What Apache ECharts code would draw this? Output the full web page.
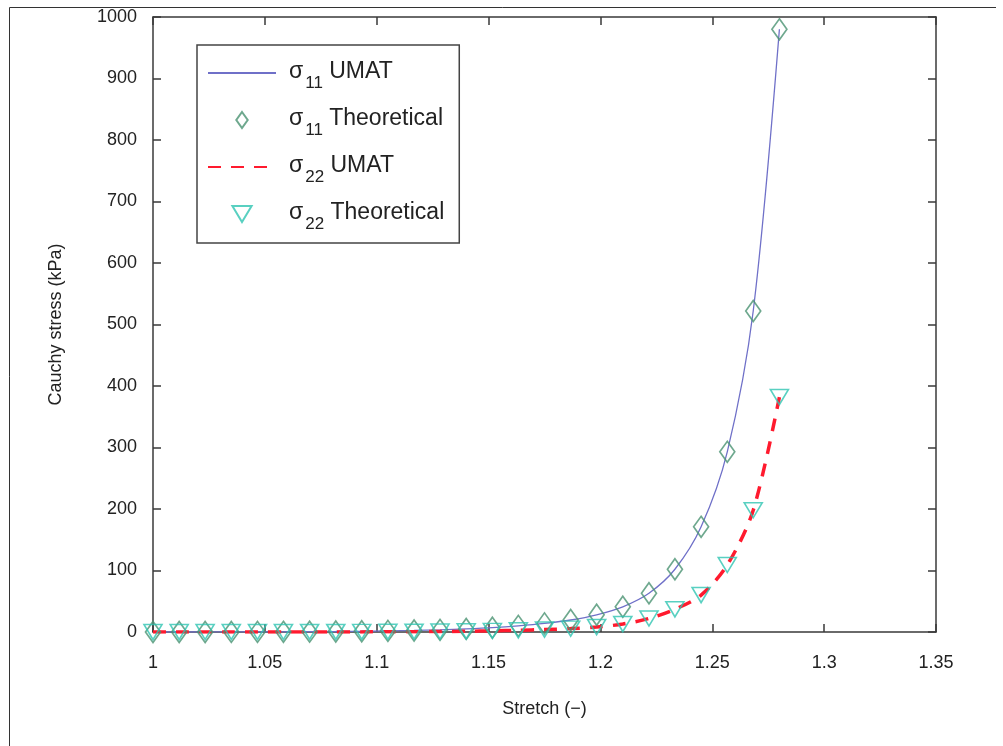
<!DOCTYPE html>
<html>
<head>
<meta charset="utf-8">
<script src="https://cdn.jsdelivr.net/npm/echarts@6/dist/echarts.min.js"></script>
<style>
html,body{margin:0;padding:0;background:#fff;}
#chart{width:1003px;height:746px;}
</style>
</head>
<body>
<div id="chart"></div>
<script>
// Stretch values (25 points from 1 to 1.28)
const stretch = [1.0, 1.0117, 1.0233, 1.035, 1.0467, 1.0583, 1.07, 1.0817, 1.0933, 1.105, 1.1167, 1.1283, 1.14, 1.1517, 1.1633, 1.175, 1.1867, 1.1983, 1.21, 1.2217, 1.2333, 1.245, 1.2567, 1.2683, 1.28];
const sigma11Theory = [0, 0.02, 0.05, 0.1, 0.2, 0.3, 0.5, 0.8, 1.2, 1.8, 2.5, 3.5, 5, 7, 10, 14, 19.5, 28, 41, 63, 102, 171, 293, 522, 980];
const sigma11Umat   = [0, 0.02, 0.05, 0.1, 0.2, 0.3, 0.5, 0.8, 1.2, 1.8, 2.5, 3.5, 5, 7, 10, 14, 19.5, 28, 41, 63, 102, 171, 293, 522, 980];
const sigma22Theory = [0, 0.01, 0.02, 0.03, 0.05, 0.07, 0.1, 0.15, 0.2, 0.3, 0.5, 0.8, 1.2, 1.8, 2.8, 4, 5.5, 8, 13, 22, 37, 60, 109, 198, 382];
const sigma22Umat   = [0, 0.01, 0.02, 0.03, 0.05, 0.07, 0.1, 0.15, 0.2, 0.3, 0.5, 0.8, 1.2, 1.8, 2.8, 4, 5.5, 8, 13, 22, 37, 60, 109, 198, 382];
const seriesNames = ['σ11 UMAT', 'σ11 Theoretical', 'σ22 UMAT', 'σ22 Theoretical'];
const xTicks = [1, 1.05, 1.1, 1.15, 1.2, 1.25, 1.3, 1.35];
const yTicks = [0, 100, 200, 300, 400, 500, 600, 700, 800, 900, 1000];

const pairs = (xs, ys) => xs.map((x, i) => [x, ys[i]]);
const FONT = '"Liberation Sans", Arial, sans-serif';
const axisColor = '#3a3a3a';

const chart = echarts.init(document.getElementById('chart'), null, {renderer: 'canvas'});
const tickStyle = {show: true, inside: true, length: 8, lineStyle: {color: axisColor, width: 1.5}};
const option = {
  backgroundColor: '#fff',
  animation: false,
  textStyle: {fontFamily: FONT},
  grid: {left: 153, right: 67, top: 17, bottom: 114, show: false},
  graphic: [
    {type: 'line', shape: {x1: 9.5, y1: 7.5, x2: 996, y2: 7.5}, style: {stroke: '#333', lineWidth: 1}},
    {type: 'line', shape: {x1: 9.5, y1: 7.5, x2: 9.5, y2: 746}, style: {stroke: '#333', lineWidth: 1}}
  ],
  legend: {
    orient: 'vertical',
    left: 197, top: 45,
    padding: [15, 15, 10, 10],
    itemGap: 15,
    itemWidth: 68, itemHeight: 16,
    borderColor: '#444', borderWidth: 1.5,
    backgroundColor: '#fff',
    data: [
      {name: seriesNames[0], itemStyle: {opacity: 0}},
      {name: seriesNames[1]},
      {name: seriesNames[2], itemStyle: {opacity: 0}},
      {name: seriesNames[3]}
    ],
    formatter: function (name) {
      const m = name.match(/^σ(\d+) (.*)$/);
      return '{base|σ}{sub|' + m[1] + '}{base| ' + m[2] + '}';
    },
    textStyle: {
      fontFamily: FONT, fontSize: 23, color: '#222', padding: [0, 0, 0, 8],
      rich: {
        base: {fontSize: 23, color: '#222', lineHeight: 26, verticalAlign: 'top'},
        sub: {fontSize: 17, color: '#222', lineHeight: 26, padding: [15, 0, 0, 2], verticalAlign: 'top'}
      }
    }
  },
  xAxis: [{
    type: 'value', min: 1, max: 1.35, interval: 0.05,
    name: 'Stretch (−)', nameLocation: 'middle', nameGap: 68,
    nameTextStyle: {fontSize: 18, color: '#222', fontFamily: FONT},
    axisLine: {show: true, onZero: false, lineStyle: {color: axisColor, width: 1.5}},
    axisTick: tickStyle,
    splitLine: {show: false},
    axisLabel: {fontSize: 18, color: '#222', margin: 22, fontFamily: FONT,
      formatter: v => { const t = xTicks.find(k => Math.abs(k - v) < 1e-6); return t === undefined ? '' : String(t); }}
  }, {
    type: 'value', min: 1, max: 1.35, interval: 0.05, position: 'top',
    axisLine: {show: true, onZero: false, lineStyle: {color: axisColor, width: 1.5}},
    axisTick: tickStyle, axisLabel: {show: false}, splitLine: {show: false}
  }],
  yAxis: [{
    type: 'value', min: 0, max: 1000, interval: 100,
    name: 'Cauchy stress (kPa)', nameLocation: 'middle', nameGap: 88, nameRotate: 90,
    nameTextStyle: {fontSize: 18, color: '#222', fontFamily: FONT},
    axisLine: {show: true, onZero: false, lineStyle: {color: axisColor, width: 1.5}},
    axisTick: tickStyle,
    splitLine: {show: false},
    axisLabel: {fontSize: 18, color: '#222', margin: 16, fontFamily: FONT,
      formatter: v => { const t = yTicks.find(k => k === v); return t === undefined ? '' : String(t); }}
  }, {
    type: 'value', min: 0, max: 1000, interval: 100, position: 'right',
    axisLine: {show: true, onZero: false, lineStyle: {color: axisColor, width: 1.5}},
    axisTick: tickStyle, axisLabel: {show: false}, splitLine: {show: false}
  }],
  series: [
    {
      name: seriesNames[0], type: 'line', data: pairs(stretch, sigma11Umat),
      symbol: 'none', smooth: 0.3,
      lineStyle: {color: '#6f70c8', width: 1.3}, itemStyle: {color: '#6f70c8'}, z: 3
    },
    {
      name: seriesNames[1], type: 'scatter', data: pairs(stretch, sigma11Theory),
      symbol: 'path://M5,0 L10,7 L5,14 L0,7 Z', symbolSize: [15, 21], symbolKeepAspect: false,
      itemStyle: {color: 'rgba(255,255,255,0)', borderColor: '#4a9272', borderWidth: 1.7}, z: 5
    },
    {
      name: seriesNames[2], type: 'line', data: pairs(stretch, sigma22Umat),
      symbol: 'none', smooth: 0.3,
      lineStyle: {color: '#ff1a2e', width: 3.5, type: [13, 10]}, itemStyle: {color: '#ff1a2e'}, z: 4
    },
    {
      name: seriesNames[3], type: 'scatter', data: pairs(stretch, sigma22Theory),
      symbol: 'path://M0,0 L12,0 L6,10 Z', symbolSize: [18, 15], symbolKeepAspect: false,
      itemStyle: {color: 'rgba(255,255,255,0)', borderColor: '#2fc4b2', borderWidth: 1.6}, z: 6
    }
  ]
};
chart.setOption(option);
</script>
</body>
</html>
